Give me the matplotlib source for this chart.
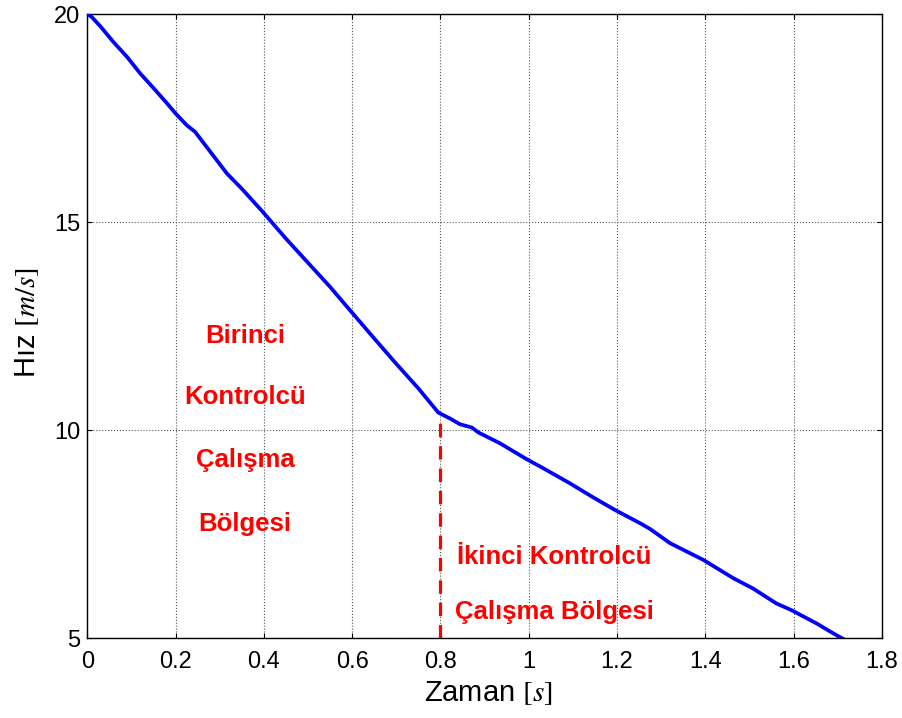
import matplotlib
matplotlib.use("Agg")
import matplotlib.pyplot as plt

plt.rcParams["font.family"] = ["Liberation Sans", "DejaVu Sans"]
plt.rcParams["mathtext.fontset"] = "stix"

# Measured vehicle speed over time
time_s = [0.0, 0.01, 0.03, 0.059, 0.09, 0.12, 0.15, 0.18, 0.2, 0.225, 0.244,
          0.28, 0.316, 0.35, 0.397, 0.45, 0.5, 0.55, 0.595, 0.65, 0.7, 0.75,
          0.795, 0.821, 0.844, 0.871, 0.886, 0.935, 0.995, 1.033, 1.093,
          1.146, 1.195, 1.252, 1.275, 1.32, 1.395, 1.463, 1.508, 1.561,
          1.595, 1.652, 1.682, 1.705, 1.712]
speed = [20.0, 19.93, 19.70, 19.33, 18.97, 18.57, 18.22, 17.86, 17.61, 17.33,
         17.17, 16.67, 16.17, 15.80, 15.25, 14.60, 14.02, 13.44, 12.88, 12.20,
         11.59, 11.00, 10.42, 10.28, 10.14, 10.06, 9.94, 9.68, 9.30, 9.08,
         8.72, 8.38, 8.08, 7.76, 7.62, 7.28, 6.88, 6.44, 6.19, 5.83, 5.67,
         5.35, 5.16, 5.02, 4.98]

# Controller switch instant
switch_time = 0.8
switch_top = 10.3

x_ticks = [0, 0.2, 0.4, 0.6, 0.8, 1.0, 1.2, 1.4, 1.6, 1.8]
x_tick_labels = ["0", "0.2", "0.4", "0.6", "0.8", "1", "1.2", "1.4", "1.6", "1.8"]
y_ticks = [5, 10, 15, 20]

first_region_lines = ["Birinci", "Kontrolcü", "Çalışma", "Bölgesi"]
first_region_y = [12.09, 10.62, 9.12, 7.58]
second_region_lines = ["İkinci Kontrolcü", "Çalışma Bölgesi"]
second_region_y = [6.79, 5.45]

fig = plt.figure(figsize=(9.03, 7.18), dpi=100)
ax = fig.add_axes([0.0967, 0.1114, 0.880, 0.869])

ax.plot(time_s, speed, color=(0, 0, 1), linewidth=2.7, zorder=3)
ax.plot([switch_time, switch_time], [5, switch_top], color=(1, 0, 0),
        linewidth=2.3, dashes=(4.2, 2.8), zorder=2)

for txt, yy in zip(first_region_lines, first_region_y):
    ax.text(0.357, yy, txt, color=(1, 0, 0), fontsize=18.5, fontweight="bold",
            ha="center", va="baseline")
for txt, yy in zip(second_region_lines, second_region_y):
    ax.text(1.058, yy, txt, color=(1, 0, 0), fontsize=18.5, fontweight="bold",
            ha="center", va="baseline")

ax.set_xlim(0, 1.8)
ax.set_ylim(5, 20)
ax.set_xticks(x_ticks)
ax.set_xticklabels(x_tick_labels)
ax.set_yticks(y_ticks)

ax.grid(True, color="0.35", linestyle=":", linewidth=0.8)
ax.tick_params(direction="in", top=True, right=True, length=3.5, width=0.8,
               labelsize=17)
ax.tick_params(axis="x", pad=9)
ax.tick_params(axis="y", pad=5)
for sp in ax.spines.values():
    sp.set_linewidth(1.0)

ax.set_xlabel(r"Zaman $[s]$", fontsize=21)
ax.set_ylabel(r"Hız $[m/s]$", fontsize=21)
ax.xaxis.set_label_coords(0.505, -0.066)
ax.yaxis.set_label_coords(-0.058, 0.506)

fig.savefig("out.png", dpi=100)
